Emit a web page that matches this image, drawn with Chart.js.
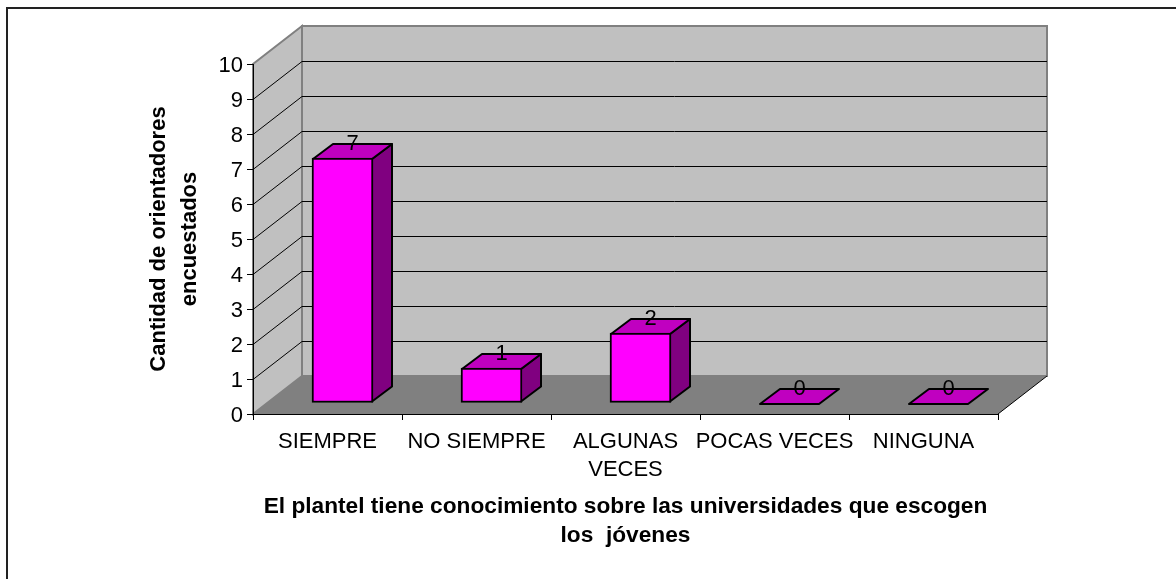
<!DOCTYPE html>
<html>
<head>
<meta charset="utf-8">
<style>
  html, body { margin: 0; padding: 0; background: #fff; }
  #wrap { width: 1176px; height: 579px; }
</style>
<script src="https://cdn.jsdelivr.net/npm/chart.js@4"></script>
</head>
<body>
<div id="wrap"><canvas id="chart"></canvas></div>
<script>
const categories = ['SIEMPRE', 'NO SIEMPRE', ['ALGUNAS', 'VECES'], 'POCAS VECES', 'NINGUNA'];
const values = [7, 1, 2, 0, 0];
const yTicks = [0, 1, 2, 3, 4, 5, 6, 7, 8, 9, 10];
const xTitle = ['El plantel tiene conocimiento sobre las universidades que escogen', 'los  jóvenes'];
const yTitle = ['Cantidad de orientadores', 'encuestados'];

const FONT = '"Liberation Sans", Arial, sans-serif';
const WALL = { dx: 49, dy: -38 };   // depth of the room
const BAR = { dx: 20, dy: -15 };    // depth of one bar
const SHIFT = { dx: 15, dy: -11 };  // bars stand a little back from the front edge

function poly(ctx, pts, fill, stroke, lw) {
    ctx.beginPath();
    pts.forEach((p, i) => i ? ctx.lineTo(p[0], p[1]) : ctx.moveTo(p[0], p[1]));
    ctx.closePath();
    if (fill) { ctx.fillStyle = fill; ctx.fill(); }
    if (stroke) { ctx.strokeStyle = stroke; ctx.lineWidth = lw || 1; ctx.stroke(); }
}

const room = {
    id: 'room',
    beforeDraw(chart) {
        const { ctx, chartArea: a, scales: { y } } = chart;
        const bx = a.left + WALL.dx, tx = a.right + WALL.dx;
        const topY = a.top + WALL.dy, floorY = a.bottom + WALL.dy;
        ctx.save();
        ctx.fillStyle = '#fff';
        ctx.fillRect(0, 0, chart.width, chart.height);

        // the frame is only visible on the top and left, it runs off the page
        ctx.fillStyle = '#222';
        ctx.fillRect(6, 7, chart.width - 6, 2);
        ctx.fillRect(6, 7, 2, chart.height - 7);

        poly(ctx, [[a.left, a.bottom], [bx, floorY], [tx, floorY], [a.right, a.bottom]], '#808080');
        poly(ctx, [[bx, topY], [tx, topY], [tx, floorY], [bx, floorY]], '#c0c0c0', '#808080', 2);
        poly(ctx, [[a.left, a.top], [bx, topY], [bx, floorY], [a.left, a.bottom]], '#c0c0c0', '#808080', 2);

        // grid on both walls, skipping the floor line and the top edge
        ctx.strokeStyle = '#000';
        ctx.lineWidth = 1;
        yTicks.slice(1, -1).forEach(v => {
            const py = Math.round(y.getPixelForValue(v)) + 0.5;
            ctx.beginPath();
            ctx.moveTo(a.left, py);
            ctx.lineTo(bx, py + WALL.dy);
            ctx.lineTo(tx, py + WALL.dy);
            ctx.stroke();
        });
        ctx.beginPath();
        ctx.moveTo(a.right, a.bottom);
        ctx.lineTo(tx, floorY);
        ctx.stroke();
        ctx.restore();
    },
    beforeDatasetDraw(chart, args) {
        const { ctx } = chart;
        ctx.save();
        ctx.translate(SHIFT.dx, SHIFT.dy);
        ctx.lineJoin = 'round';
        args.meta.data.forEach(bar => {
            const l = bar.x - bar.width / 2 + 1, r = bar.x + bar.width / 2 - 1;
            const t = bar.y + 1, b = bar.base - 1;
            if (b > t) poly(ctx, [[r, t], [r + BAR.dx, t + BAR.dy], [r + BAR.dx, b + BAR.dy], [r, b]], '#800080', '#000', 2);
            poly(ctx, [[l, t], [l + BAR.dx, t + BAR.dy], [r + BAR.dx, t + BAR.dy], [r, t]], '#c000c0', '#000', 2);
        });
    },
    afterDatasetDraw(chart) {
        chart.ctx.restore();
    },
    afterDatasetsDraw(chart) {
        const { ctx } = chart;
        const meta = chart.getDatasetMeta(0);
        ctx.save();
        ctx.font = '22px ' + FONT;
        ctx.fillStyle = '#000';
        ctx.textAlign = 'center';
        ctx.textBaseline = 'middle';
        meta.data.forEach((bar, i) => {
            ctx.fillText(String(values[i]), bar.x + SHIFT.dx + BAR.dx / 2, bar.y + SHIFT.dy + BAR.dy + 1);
        });
        ctx.restore();
    }
};

new Chart(document.getElementById('chart'), {
    type: 'bar',
    data: {
        labels: categories,
        datasets: [{
            data: values,
            backgroundColor: '#ff00ff',
            borderColor: '#000',
            borderWidth: 2,
            borderSkipped: false,
            barThickness: 61
        }]
    },
    options: {
        responsive: true,
        maintainAspectRatio: false,
        animation: false,
        layout: { padding: { left: 140, top: 64, right: 178, bottom: 25 } },
        plugins: { legend: { display: false }, tooltip: { enabled: false } },
        scales: {
            x: {
                afterFit(scale) { scale.height = 140; },
                grid: { drawOnChartArea: false, offset: true, color: '#000', tickLength: 6 },
                border: { color: '#000', width: 1 },
                ticks: {
                    autoSkip: false, maxRotation: 0, minRotation: 0, padding: 8,
                    color: '#000', font: { family: FONT, size: 22, lineHeight: 1.27 }
                },
                title: {
                    display: true, text: xTitle, color: '#000',
                    font: { family: FONT, size: 22.7, weight: 'bold', lineHeight: 1.28 }
                }
            },
            y: {
                min: 0, max: 10,
                afterFit(scale) {
                    scale.width = 113;
                    // digits sit a bit lower against their tick than canvas middle gives
                    if (!scale.labelsNudged) {
                        const drawLabels = scale.drawLabels;
                        scale.drawLabels = function (area) {
                            this.ctx.save();
                            this.ctx.translate(0, 2);
                            drawLabels.call(this, area);
                            this.ctx.restore();
                        };
                        scale.labelsNudged = true;
                    }
                },
                afterBuildTicks(scale) { scale.ticks = yTicks.map(v => ({ value: v })); },
                grid: { drawOnChartArea: false, color: '#000', tickLength: 6 },
                border: { color: '#000', width: 1 },
                ticks: {
                    padding: 4, color: '#000', font: { family: FONT, size: 22 }
                },
                title: {
                    display: true, text: yTitle, color: '#000',
                    font: { family: FONT, size: 22, weight: 'bold', lineHeight: 1.39 }
                }
            }
        }
    },
    plugins: [room]
});
</script>
</body>
</html>
